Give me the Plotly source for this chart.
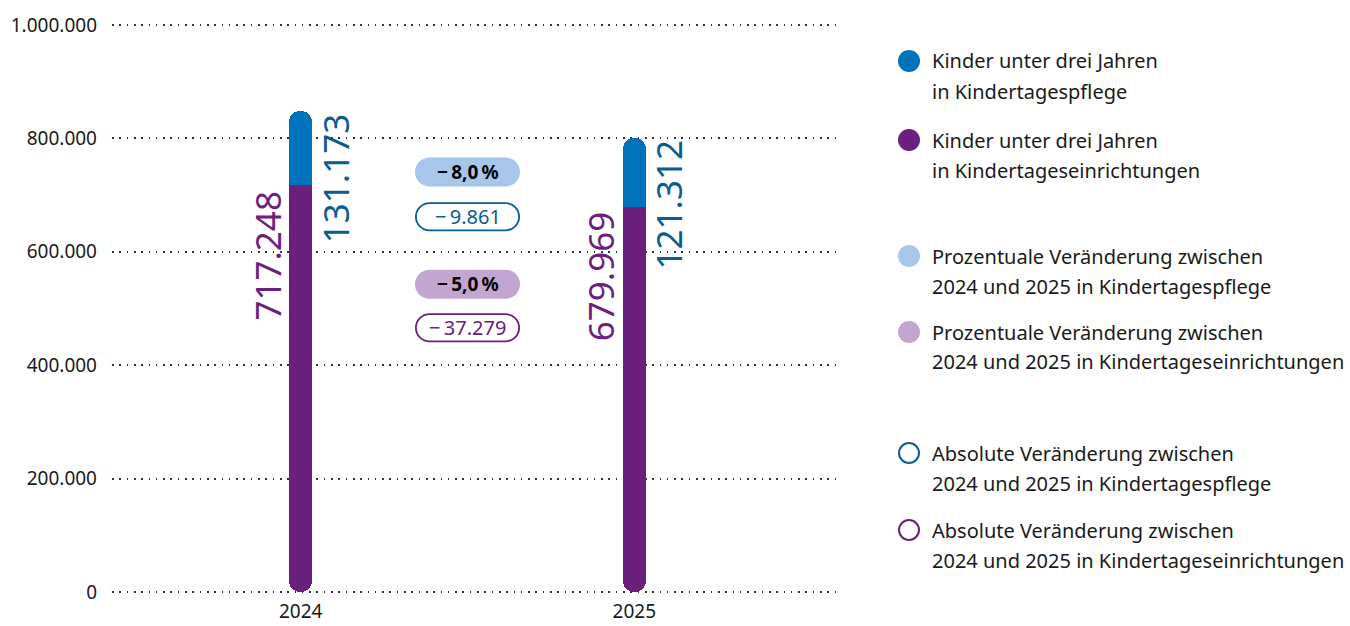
import plotly.graph_objects as go

# ---------------- data ----------------
years = [2024, 2025]
year_labels = ["2024", "2025"]
tagespflege = [131173, 121312]        # Kinder unter drei Jahren in Kindertagespflege
einrichtungen = [717248, 679969]      # Kinder unter drei Jahren in Kindertageseinrichtungen
pct_change = ["8,0", "5,0"]           # Prozentuale Veränderung (Tagespflege, Einrichtungen)
y_ticks = [0, 200000, 400000, 600000, 800000, 1000000]
y_tick_labels = ["0", "200.000", "400.000", "600.000", "800.000", "1.000.000"]
legend_lines = [
    ("Kinder unter drei Jahren", "in Kindertagespflege"),
    ("Kinder unter drei Jahren", "in Kindertageseinrichtungen"),
    ("Prozentuale Veränderung zwischen", "2024 und 2025 in Kindertagespflege"),
    ("Prozentuale Veränderung zwischen", "2024 und 2025 in Kindertageseinrichtungen"),
    ("Absolute Veränderung zwischen", "2024 und 2025 in Kindertagespflege"),
    ("Absolute Veränderung zwischen", "2024 und 2025 in Kindertageseinrichtungen"),
]

# ---------------- style ----------------
FONT = "Noto Sans"
BLUE = "#0072bc"
BLUE_TXT = "#0b5c92"
PURPLE = "#6c207e"
LIGHT_BLUE = "#a7c7ea"
LIGHT_PURPLE = "#c4a4d0"
TXT = "#1a1a1a"

W, H = 1350, 626
ML, MR, MT, MB = 112, 510, 24, 33
PW, PH = W - ML - MR, H - MT - MB
X_LEFT_PX, X_UNIT_PX = 188.7, 333.6
x_range = [years[0] - X_LEFT_PX / X_UNIT_PX, years[0] + (PW - X_LEFT_PX) / X_UNIT_PX]
BAR_W = 22.5 / X_UNIT_PX
Y_PAD = 2030
y_range = [y_ticks[0] - Y_PAD, y_ticks[-1] + Y_PAD]


def fmt(v):
    return f"{abs(v):,}".replace(",", ".")


def px_to_paper(px, py):
    return (px - ML) / PW, (H - MB - py) / PH


totals = [a + b for a, b in zip(einrichtungen, tagespflege)]
abs_change_blue = tagespflege[1] - tagespflege[0]
abs_change_purple = einrichtungen[1] - einrichtungen[0]


def bar(y, base, color, radius):
    return go.Bar(
        x=years, y=y, base=base, width=BAR_W,
        marker=dict(color=color, cornerradius=radius, line=dict(width=0)),
        hoverinfo="skip", showlegend=False,
    )


fig = go.Figure()
# purple segment 0 -> value, rounded ends; top half re-squared by a plain bar
fig.add_trace(bar(einrichtungen, [0] * len(years), PURPLE, "50%"))
fig.add_trace(bar([v / 2 for v in einrichtungen], [v / 2 for v in einrichtungen], PURPLE, 0))
# blue segment value -> total, rounded ends; bottom half re-squared by a plain bar
fig.add_trace(bar(tagespflege, einrichtungen, BLUE, "50%"))
fig.add_trace(bar([v / 2 for v in tagespflege], einrichtungen, BLUE, 0))

annotations = []
for i, yr in enumerate(years):
    annotations.append(dict(
        x=yr, y=totals[i], xref="x", yref="y", text=fmt(tagespflege[i]),
        textangle=-90, xanchor="center", yanchor="top", xshift=34.5, yshift=0,
        showarrow=False, font=dict(family=FONT, size=35, color=BLUE_TXT),
    ))
    annotations.append(dict(
        x=yr, y=einrichtungen[i], xref="x", yref="y", text=fmt(einrichtungen[i]),
        textangle=-90, xanchor="center", yanchor="top", xshift=-33.5, yshift=-3,
        showarrow=False, font=dict(family=FONT, size=35, color=PURPLE),
    ))

# pills between the bars
K = 0.5523


def pill_path(a, r):
    kr = K * r
    return (f"M {-a},{-r} L {a},{-r} C {a+kr},{-r} {a+r},{-kr} {a+r},0 "
            f"C {a+r},{kr} {a+kr},{r} {a},{r} L {-a},{r} "
            f"C {-a-kr},{r} {-a-r},{kr} {-a-r},0 C {-a-r},{-kr} {-a-kr},{-r} {-a},{-r} Z")


x_mid = (years[0] + years[1]) / 2
pills = [
    # (y position, text, fill, line color, text color, bold)
    (741000, f"−\u2009{pct_change[0]}\u2009%", LIGHT_BLUE, None, "#000000", True),
    (662000, f"−\u2009{fmt(abs_change_blue)}", "white", BLUE_TXT, BLUE_TXT, False),
    (543000, f"−\u2009{pct_change[1]}\u2009%", LIGHT_PURPLE, None, "#000000", True),
    (466000, f"−\u2009{fmt(abs_change_purple)}", "white", PURPLE, PURPLE, False),
]
shapes = []
for yv, txt, fill, lc, tc, bold in pills:
    if lc is None:
        path = pill_path(38, 14.5)
        line = dict(width=0)
    else:
        path = pill_path(38, 13.6)
        line = dict(color=lc, width=1.8)
    shapes.append(dict(
        type="path", xref="x", yref="y", xsizemode="pixel", ysizemode="pixel",
        xanchor=x_mid, yanchor=yv, path=path, fillcolor=fill, line=line, layer="above",
    ))
    annotations.append(dict(
        x=x_mid, y=yv, xref="x", yref="y",
        text=f"<b>{txt}</b>" if bold else txt,
        xanchor="center", yanchor="middle", showarrow=False,
        font=dict(family=FONT, size=19 if bold else 20, color=tc),
    ))

# custom legend
legend_style = [
    (BLUE, True), (PURPLE, True), (LIGHT_BLUE, True), (LIGHT_PURPLE, True),
    (BLUE_TXT, False), (PURPLE, False),
]
legend_y = [61, 140, 256, 332, 453, 530]
LINE_GAP = 30
CIRCLE_X, TEXT_X = 909, 930
for (col, filled), (l1, l2), ly in zip(legend_style, legend_lines, legend_y):
    cx, cy = px_to_paper(CIRCLE_X, ly)
    if filled:
        shapes.append(dict(type="circle", xref="paper", yref="paper",
                           xsizemode="pixel", ysizemode="pixel", xanchor=cx, yanchor=cy,
                           x0=-11, x1=11, y0=-11, y1=11, fillcolor=col, line=dict(width=0)))
    else:
        shapes.append(dict(type="circle", xref="paper", yref="paper",
                           xsizemode="pixel", ysizemode="pixel", xanchor=cx, yanchor=cy,
                           x0=-10, x1=10, y0=-10, y1=10, fillcolor="white",
                           line=dict(color=col, width=2)))
    for k, t in enumerate((l1, l2)):
        tx, ty = px_to_paper(TEXT_X, ly + k * LINE_GAP)
        annotations.append(dict(
            x=tx, y=ty, xref="paper", yref="paper", text=t, xanchor="left",
            yanchor="middle", showarrow=False, font=dict(family=FONT, size=20, color=TXT),
        ))

fig.update_layout(
    width=W, height=H,
    margin=dict(l=ML, r=MR, t=MT, b=MB, pad=0, autoexpand=False),
    paper_bgcolor="white", plot_bgcolor="white",
    barmode="overlay", bargap=0,
    showlegend=False,
    font=dict(family=FONT, size=19, color=TXT),
    xaxis=dict(
        range=x_range, tickvals=years, ticktext=year_labels,
        showgrid=False, zeroline=False, showline=False, ticks="",
        ticklabelstandoff=5, tickfont=dict(family=FONT, size=19, color=TXT),
        fixedrange=True, automargin=False,
    ),
    yaxis=dict(
        range=y_range, tickvals=y_ticks, ticktext=y_tick_labels,
        showgrid=True, gridcolor="#333333", gridwidth=1.6, griddash="1.6px,5.7px",
        zeroline=False, showline=False, ticks="",
        ticklabelstandoff=14, tickfont=dict(family=FONT, size=19, color=TXT),
        fixedrange=True, automargin=False,
    ),
    annotations=annotations,
    shapes=shapes,
)

fig.write_html(
    "out.html",
    config={"displayModeBar": False},
    post_script="document.body.style.margin='0';document.body.style.overflow='hidden';",
)
